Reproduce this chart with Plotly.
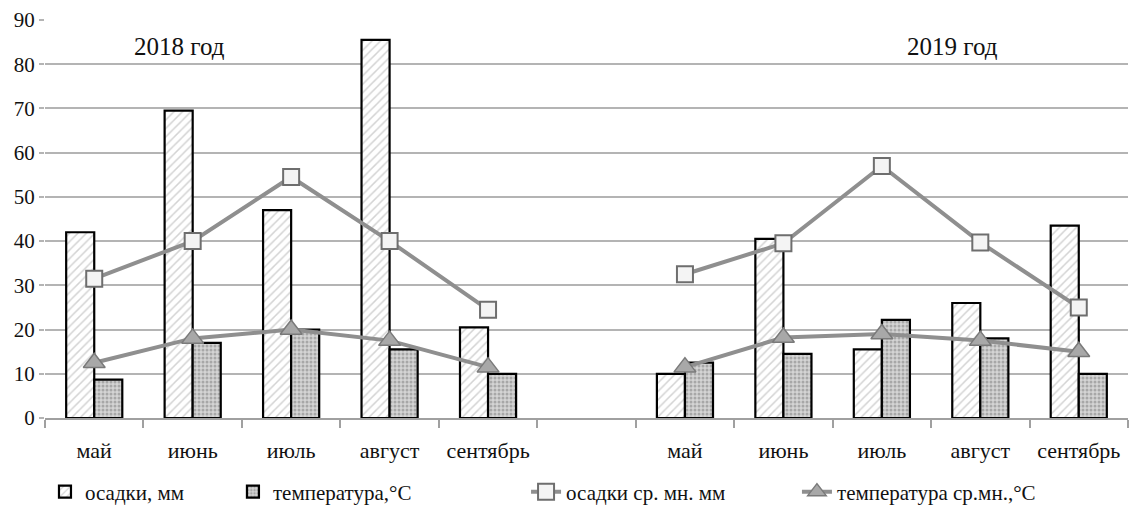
import plotly.graph_objects as go

months = ["май", "июнь", "июль", "август", "сентябрь"]
tick_labels = months + [""] + months
x_pos = list(range(11))

# 2018 (5 values), empty slot, 2019 (5 values)
precip = [42, 69.5, 47, 85.5, 20.5, None, 10, 40.5, 15.5, 26, 43.5]
temp = [8.7, 17, 20, 15.5, 10, None, 12.5, 14.5, 22.2, 18, 10]
precip_norm = [31.5, 40, 54.5, 40, 24.5, None, 32.5, 39.5, 57, 39.7, 25]
temp_norm = [12.5, 18, 20, 17.5, 11.5, None, 11.5, 18.2, 19, 17.5, 15]

year_labels = ["2018 год", "2019 год"]

FONT = "Liberation Serif"

fig = go.Figure()
fig.add_trace(go.Bar(
    x=x_pos, y=precip, name="осадки, мм", legend="legend",
    marker=dict(color="white", line=dict(color="black", width=2.2),
                pattern=dict(shape="/", fgcolor="#a8a8a8", bgcolor="white", size=6, solidity=0.25)),
))
fig.add_trace(go.Bar(
    x=x_pos, y=temp, name="температура,°C", legend="legend2",
    marker=dict(color="#d4d4d4", line=dict(color="black", width=2.2),
                pattern=dict(shape=".", fgcolor="#7a7a7a", bgcolor="#d4d4d4", size=4, solidity=0.45)),
))
fig.add_trace(go.Scatter(
    x=x_pos, y=precip_norm, name="осадки ср. мн. мм", legend="legend3",
    mode="lines+markers", connectgaps=False,
    line=dict(color="#8f8f8f", width=4),
    marker=dict(symbol="square", size=16, color="#f4f4f4", line=dict(color="#6e6e6e", width=2)),
))
fig.add_trace(go.Scatter(
    x=x_pos, y=temp_norm, name="температура ср.мн.,°C", legend="legend4",
    mode="lines+markers", connectgaps=False,
    line=dict(color="#8f8f8f", width=4),
    marker=dict(symbol="triangle-up", size=19, color="#a8a8a8", line=dict(color="#7a7a7a", width=1.5)),
))

fig.add_annotation(x=0.87, y=84, xref="x", yref="y", text=year_labels[0], showarrow=False,
                   font=dict(family=FONT, size=25))
fig.add_annotation(x=8.72, y=84, xref="x", yref="y", text=year_labels[1], showarrow=False,
                   font=dict(family=FONT, size=25))

legend_common = dict(orientation="h", yanchor="middle", y=0.0315, yref="container",
                     xanchor="left", xref="container",
                     bgcolor="rgba(0,0,0,0)", font=dict(family=FONT, size=21),
                     itemclick=False)

fig.update_layout(
    width=1133, height=508,
    margin=dict(l=45, r=5, t=20, b=90, autoexpand=False),
    paper_bgcolor="white", plot_bgcolor="white",
    barmode="group", bargap=0.43, bargroupgap=0,
    font=dict(family=FONT, color="#111111"),
    showlegend=True,
    legend=dict(x=0.0397, **legend_common),
    legend2=dict(x=0.2056, **legend_common),
    legend3=dict(x=0.4643, **legend_common),
    legend4=dict(x=0.7034, **legend_common),
    xaxis=dict(
        range=[-0.5, 10.5], tickmode="array", tickvals=x_pos, ticktext=tick_labels,
        ticks="", showgrid=False, zeroline=False, automargin=False,
        showline=True, linecolor="#a0a0a0", linewidth=2,
        tickfont=dict(family=FONT, size=22),
        ticklabelstandoff=12,
        minor=dict(tickmode="array", tickvals=[i - 0.5 for i in range(12)],
                   ticks="outside", ticklen=8, tickcolor="#a0a0a0", tickwidth=2, showgrid=False),
    ),
    yaxis=dict(
        range=[0, 90], tickmode="array", tickvals=list(range(0, 91, 10)),
        showgrid=True, gridcolor="#b4b4b4", gridwidth=2, automargin=False,
        zeroline=False, showline=False,
        ticks="outside", ticklen=5, tickcolor="#b4b4b4", tickwidth=2,
        tickfont=dict(family=FONT, size=21),
    ),
)

fig.write_html("out.html")
